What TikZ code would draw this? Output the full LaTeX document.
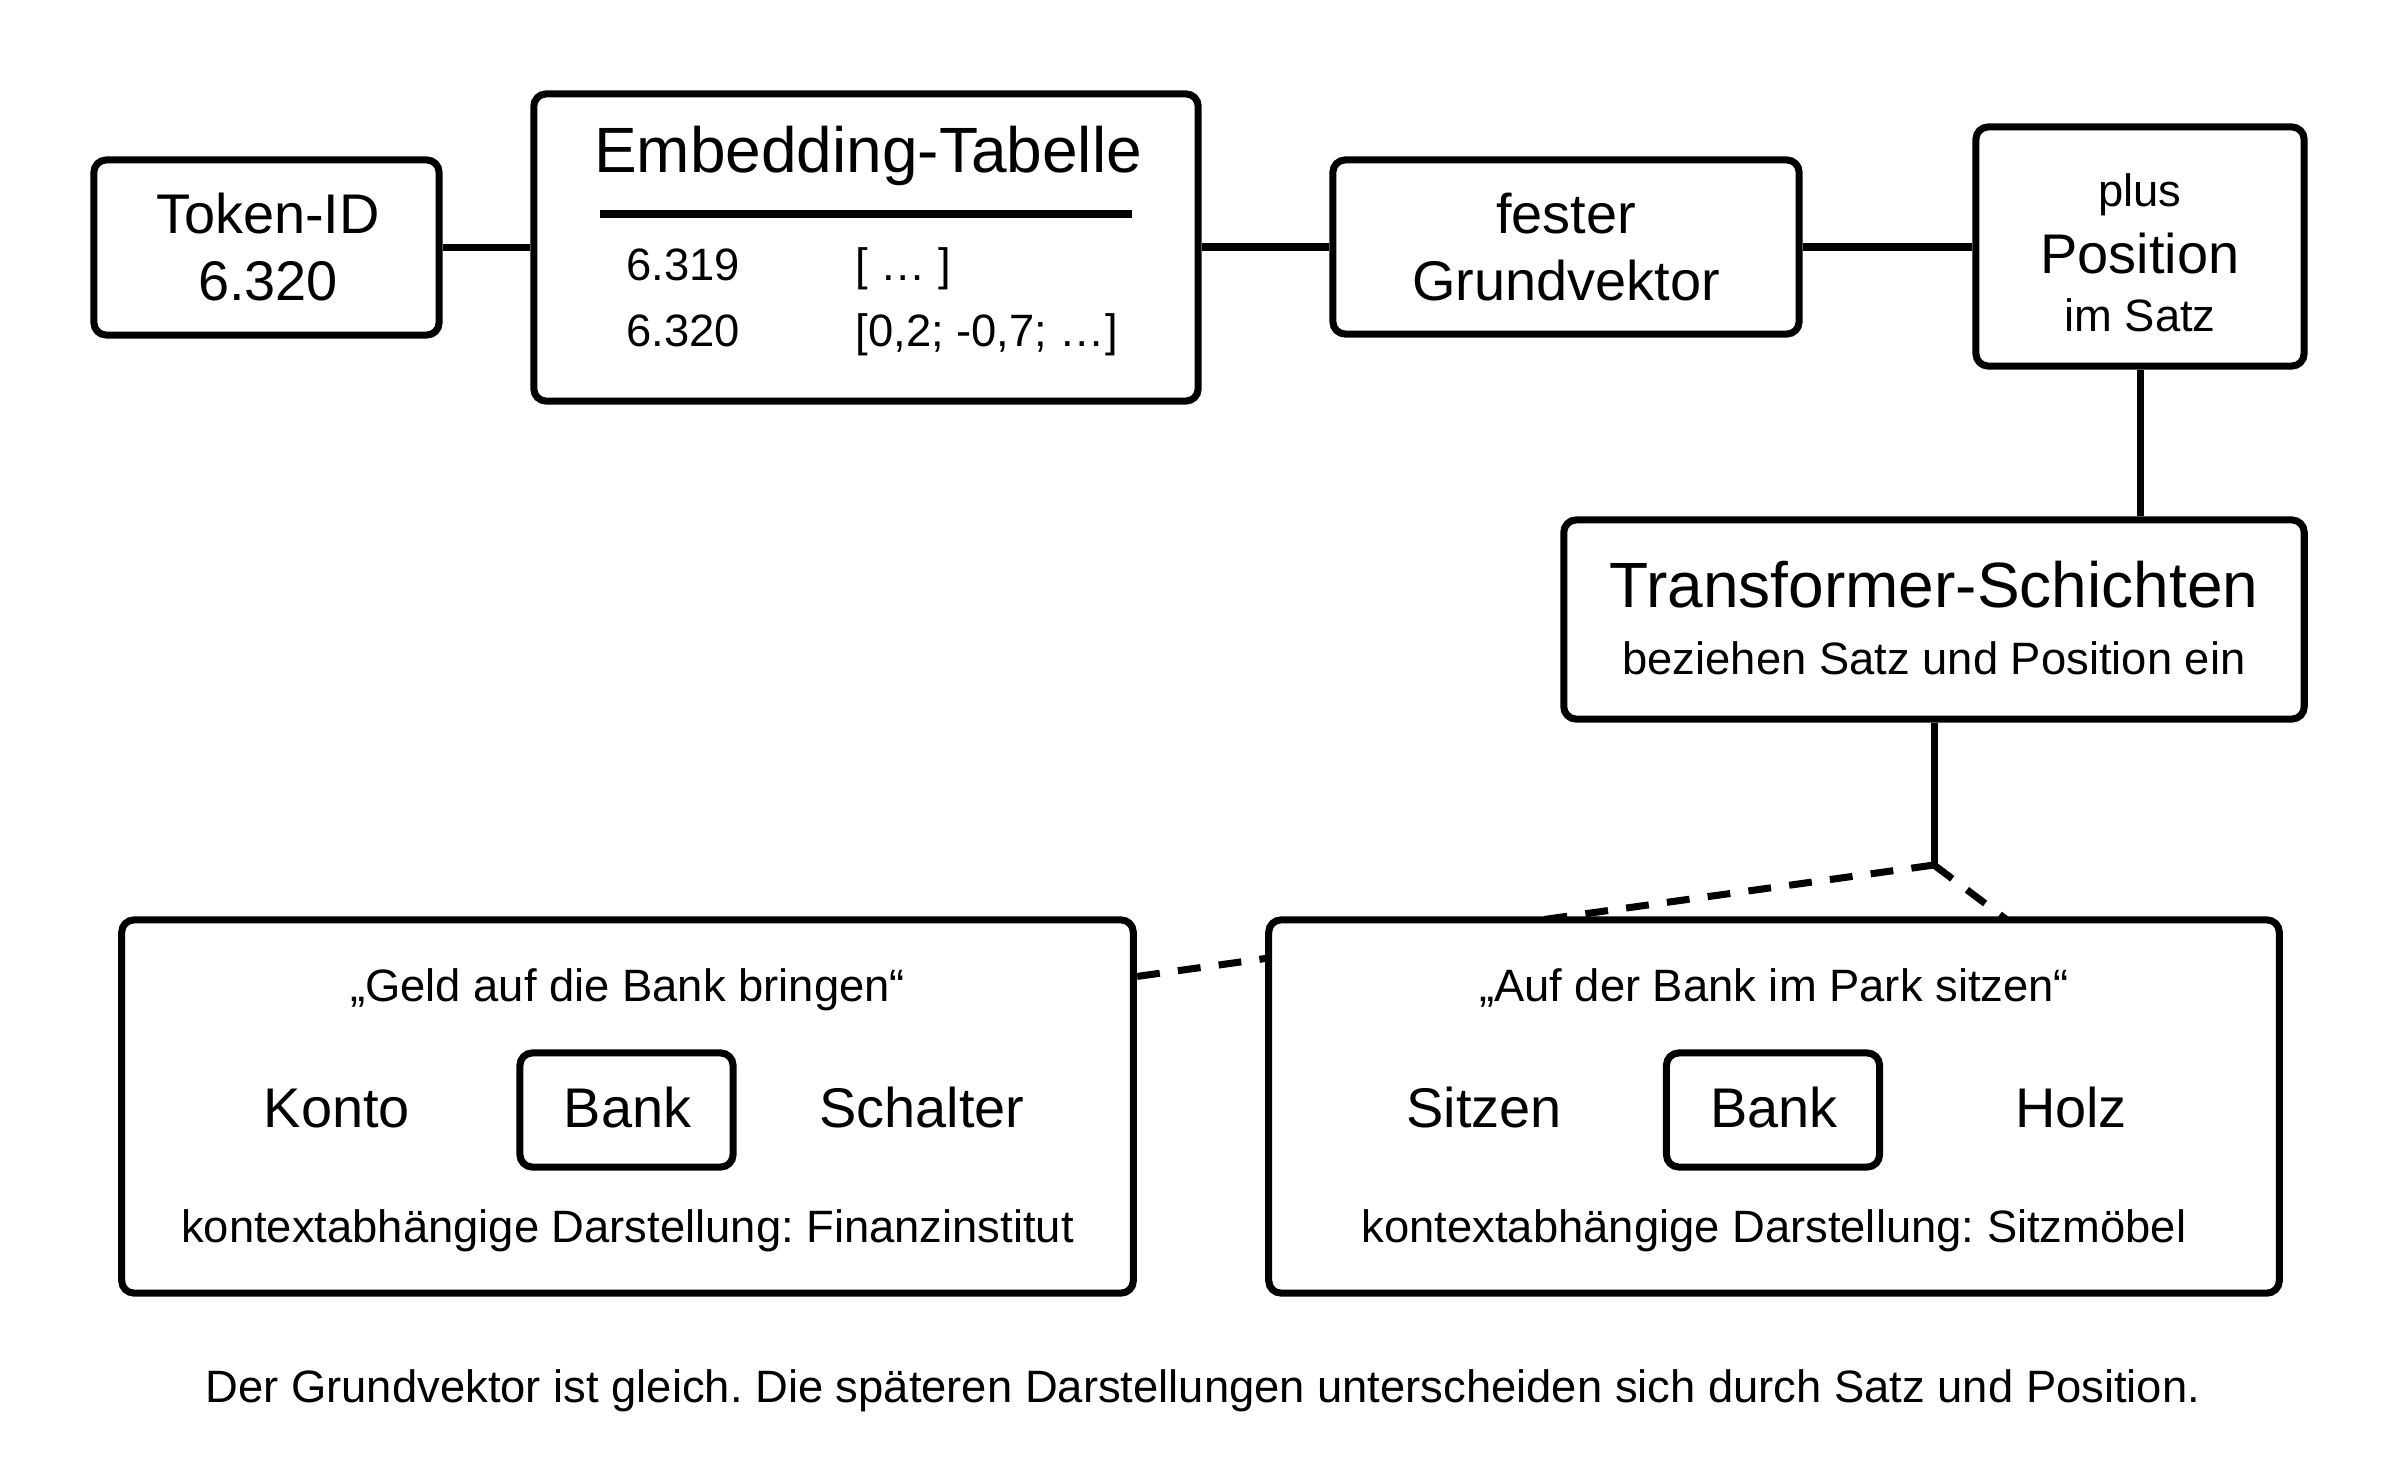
\documentclass[tikz,border=0pt]{standalone}
\usepackage{fontspec}
\setmainfont{Liberation Sans}
\frenchspacing
\pgfdeclarelayer{bg}
\pgfsetlayers{bg,main}
\begin{document}
\begin{tikzpicture}[x=0.01cm,y=-0.01cm,
  box/.style={draw, line width=2pt, rounded corners=3.5pt, fill=white, inner sep=0pt},
  conn/.style={line width=2pt},
  dconn/.style={line width=2pt, dash pattern=on 6.5pt off 5.2pt},
  big/.style={font=\fontsize{18.2}{22}\selectfont, inner sep=0pt, anchor=base},
  med/.style={font=\fontsize{15.9}{19}\selectfont, inner sep=0pt, anchor=base},
  sml/.style={font=\fontsize{12.9}{15}\selectfont, inner sep=0pt, anchor=base}]
\useasboundingbox (0,0) rectangle (2400,1467);

% boxes
\node[box, minimum width=3.45cm, minimum height=1.75cm] (tok) at (266.5,247.5) {};
\node[box, minimum width=6.64cm, minimum height=3.07cm] (emb) at (866,247.5) {};
\node[box, minimum width=4.66cm, minimum height=1.74cm] (fest) at (1566,247) {};
\node[box, minimum width=3.28cm, minimum height=2.39cm] (plus) at (2140,246.5) {};
\node[box, minimum width=7.40cm, minimum height=1.99cm] (trans) at (1934,619.5) {};
\node[box, minimum width=10.11cm, minimum height=3.73cm] (lbox) at (627.5,1106.5) {};
\node[box, minimum width=10.10cm, minimum height=3.73cm] (rbox) at (1774,1106.5) {};
\node[box, minimum width=2.13cm, minimum height=1.14cm] (lbank) at (626.5,1110) {};
\node[box, minimum width=2.13cm, minimum height=1.14cm] (rbank) at (1773,1110) {};

% texts
\node[med] (tokA) at (268,234) {Token-ID};
\node[med] (tokB) at (268,301) {6.320};
\node[big] (embT) at (868,173) {Embedding-Tabelle};
\coordinate (rl) at (599.5,214);
\coordinate (rr) at (1132,214);
\draw[conn] (rl) -- (rr);
\node[sml, anchor=base west] (r1a) at (626,281) {6.319};
\node[sml, anchor=base west] (r1b) at (855,281) {[ … ]};
\node[sml, anchor=base west] (r2a) at (626,347) {6.320};
\node[sml, anchor=base west] (r2b) at (855,347) {[0,2; -0,7; …]};
\node[med] (festA) at (1566,234) {fester};
\node[med] (festB) at (1566,301) {Grundvektor};
\node[sml] (plusA) at (2140,207) {plus};
\node[med] (plusB) at (2140,274) {Position};
\node[sml] (plusC) at (2140,332) {im Satz};
\node[big] (transA) at (1934,607) {Transformer-Schichten};
\node[sml] (transB) at (1934,674) {beziehen Satz und Position ein};

\node[sml] (lq) at (627.5,1001) {„Geld auf die Bank bringen“};
\node[med] (lw1) at (337,1127) {Konto};
\node[med] (lw2) at (627.5,1127) {Bank};
\node[med] (lw3) at (922,1127) {Schalter};
\node[sml] (ld) at (627.5,1242) {kontextabhängige Darstellung: Finanzinstitut};

\node[sml] (rq) at (1774,1001) {„Auf der Bank im Park sitzen“};
\node[med] (rw1) at (1484,1127) {Sitzen};
\node[med] (rw2) at (1774,1127) {Bank};
\node[med] (rw3) at (2071,1127) {Holz};
\node[sml] (rd) at (1774,1242) {kontextabhängige Darstellung: Sitzmöbel};

\node[sml] (cap) at (1203,1402) {Der Grundvektor ist gleich. Die späteren Darstellungen unterscheiden sich durch Satz und Position.};

% connectors
\draw[conn] (tok.east) -- (emb.west |- tok.east);
\draw[conn] (emb.east |- fest.west) -- (fest.west);
\draw[conn] (fest.east) -- (plus.west |- fest.east);
\draw[conn] (plus.south) -- (plus.south |- trans.north);
\coordinate (j) at (1934,865);
\coordinate (lend) at (1133,977);
\coordinate (rend) at (2007,920);
\begin{pgfonlayer}{bg}
\draw[conn] (trans.south) -- (j);
\draw[dconn] (j) -- (lend);
\draw[dconn] (j) -- (rend);
\end{pgfonlayer}
\end{tikzpicture}
\end{document}
